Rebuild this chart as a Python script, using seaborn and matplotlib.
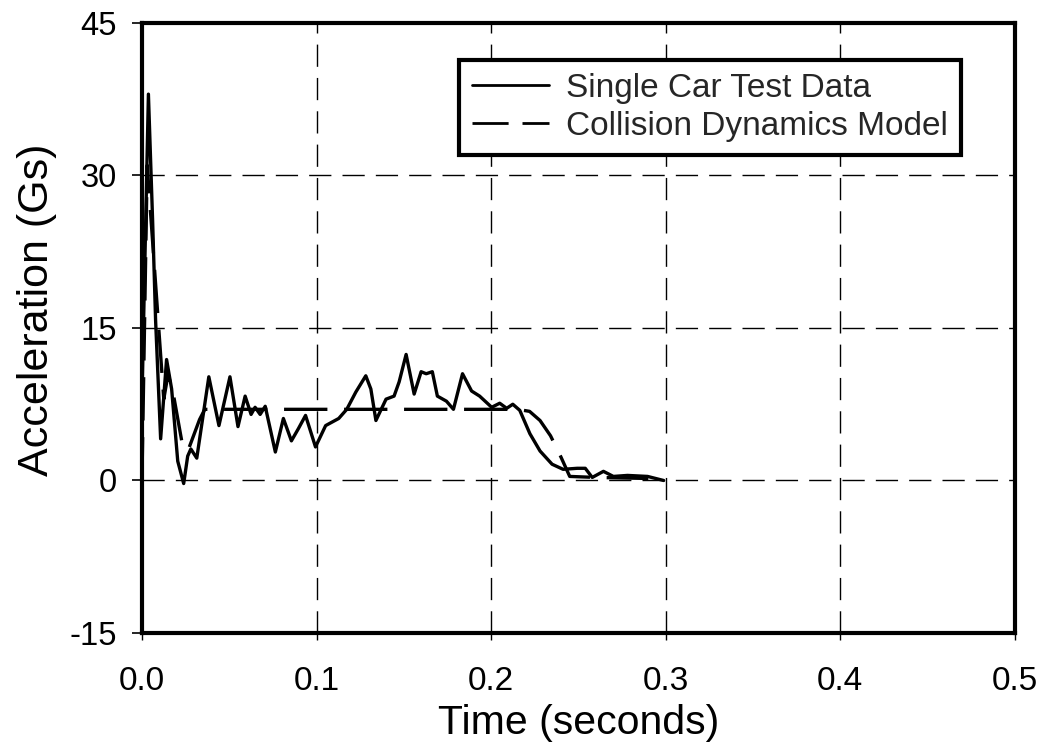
import numpy as np
import pandas as pd
import matplotlib
matplotlib.use("Agg")
import matplotlib.pyplot as plt
import seaborn as sns

# ---- data ----
test_time = [0.0000, 0.0037, 0.0061, 0.0078, 0.0107, 0.0141, 0.0170, 0.0205, 0.0239,
             0.0262, 0.0280, 0.0314, 0.0383, 0.0441, 0.0504, 0.0550, 0.0591, 0.0625,
             0.0648, 0.0677, 0.0706, 0.0764, 0.0810, 0.0856, 0.0896, 0.0937, 0.0994,
             0.1052, 0.1127, 0.1173, 0.1225, 0.1282, 0.1311, 0.1340, 0.1398, 0.1444,
             0.1473, 0.1513, 0.1559, 0.1599, 0.1628, 0.1663, 0.1692, 0.1744, 0.1784,
             0.1836, 0.1888, 0.1934, 0.2003, 0.2049, 0.2089, 0.2124, 0.2164, 0.2222,
             0.2280, 0.2349, 0.2412, 0.2493, 0.2539, 0.2579, 0.2643, 0.2700, 0.2781,
             0.2896, 0.2988]
test_accel = [8.0, 38.0, 25.6, 15.8, 4.1, 11.9, 9.0, 1.9, -0.3,
              2.4, 3.1, 2.2, 10.2, 5.4, 10.2, 5.3, 8.3, 6.5,
              7.2, 6.5, 7.3, 2.8, 6.1, 3.9, 5.1, 6.4, 3.3,
              5.4, 6.1, 7.0, 8.7, 10.3, 9.0, 5.9, 8.0, 8.3,
              9.7, 12.4, 8.5, 10.7, 10.5, 10.7, 8.3, 7.8, 7.0,
              10.5, 8.8, 8.3, 7.2, 7.6, 7.1, 7.5, 6.9, 4.6,
              2.9, 1.6, 1.1, 1.2, 1.2, 0.3, 0.9, 0.4, 0.5,
              0.4, 0.0]

model_time = [0.000, 0.003, 0.0125, 0.0150, 0.0185, 0.0235, 0.0265, 0.0330, 0.0360,
              0.215, 0.222, 0.228, 0.234, 0.240, 0.245, 0.260, 0.290]
model_accel = [0.0, 31.0, 8.0, 10.5, 8.0, 3.2, 3.0, 6.0, 7.0,
               7.0, 6.8, 5.9, 4.4, 2.3, 0.4, 0.3, 0.2]

series_names = ["Single Car Test Data", "Collision Dynamics Model"]
x_ticks = [0.0, 0.1, 0.2, 0.3, 0.4, 0.5]
x_tick_labels = ["0.0", "0.1", "0.2", "0.3", "0.4", "0.5"]
y_ticks = [-15, 0, 15, 30, 45]
y_tick_labels = ["-15", "0", "15", "30", "45"]

df = pd.concat([
    pd.DataFrame({"Time": test_time, "Accel": test_accel, "Series": series_names[0]}),
    pd.DataFrame({"Time": model_time, "Accel": model_accel, "Series": series_names[1]}),
], ignore_index=True)

sns.set_style("white")
plt.rcParams["font.family"] = ["Liberation Sans", "DejaVu Sans"]

fig = plt.figure(figsize=(10.43, 7.44), dpi=100)
ax = fig.add_axes([0.1361, 0.1492, 0.837, 0.8199])

sns.lineplot(data=df, x="Time", y="Accel", hue="Series", style="Series",
             palette=["black", "black"],
             dashes={series_names[0]: "", series_names[1]: (13, 5)},
             linewidth=2.4, sort=False, estimator=None, ax=ax, legend=True)

ax.set_xlim(0, 0.5)
ax.set_ylim(-15, 45)
ax.set_xticks(x_ticks)
ax.set_xticklabels(x_tick_labels)
ax.set_yticks(y_ticks)
ax.set_yticklabels(y_tick_labels)

ax.grid(True, color="black", linestyle=(0, (16, 8)), linewidth=1.0)
ax.set_axisbelow(True)
for s in ax.spines.values():
    s.set_linewidth(3.0)
    s.set_color("black")
    s.set_visible(True)

ax.tick_params(axis="x", which="both", bottom=True, direction="out", length=5,
               width=1, pad=19, labelsize=24, colors="black")
ax.tick_params(axis="y", which="both", left=True, direction="out", length=7,
               width=1.2, pad=11, labelsize=23.5, colors="black")

ax.set_xlabel("Time (seconds)", fontsize=29.5, labelpad=5, color="black")
ax.set_ylabel("Acceleration (Gs)", fontsize=31, labelpad=5, color="black")
ax.yaxis.set_label_coords(-0.097, 0.53)

handles, labels = ax.get_legend_handles_labels()
leg = ax.legend(handles, labels, loc="upper right", bbox_to_anchor=(0.938, 0.94),
                borderaxespad=0, fontsize=24, frameon=True, fancybox=False,
                edgecolor="black", framealpha=1, handlelength=2.3,
                handletextpad=0.5, labelspacing=0.2, borderpad=0.4)
leg.get_frame().set_linewidth(3)
for line in leg.get_lines():
    line.set_linewidth(2.0)

fig.savefig("out.png", dpi=100)
